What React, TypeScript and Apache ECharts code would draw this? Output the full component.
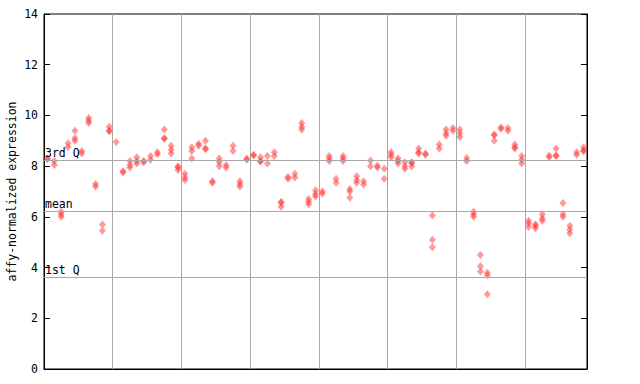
import React, { useEffect, useRef } from "react";
import * as echarts from "echarts";

// Replicate values per sample (79 samples, index = sample position)
const replicateA: (number | null)[] = [
  8.3, 8.2, 6.2, 8.9, 9.4, 8.6, 9.9, 7.3, 5.7, 9.55,
  8.95, 7.8, 8.2, 8.35, 8.2, 8.4, 8.55, 9.45, 8.8, 8.0,
  7.7, 8.75, 8.88, 9.0, 7.4, 8.3, 8.05, 8.8, 7.4, 8.3,
  8.45, 8.35, 8.4, 8.55, 6.6, 7.57, 7.7, 9.7, 6.7, 7.05,
  7.0, 8.4, 7.5, 8.4, 7.1, 7.6, 7.4, 8.22, 8.02, 7.9,
  8.55, 8.3, 8.15, 8.15, 8.7, 8.5, 6.05, 8.85, 9.45, 9.5,
  9.45, 8.32, 6.2, 4.5, 3.8, 9.25, 9.52, 9.5, 8.85, 8.4,
  5.85, 5.7, 6.1, 8.42, 8.7, 6.55, 5.65, 8.55, 8.75,
];
const replicateB: (number | null)[] = [
  8.28, 8.05, 6.1, 8.75, 9.1, 8.5, 9.8, 7.2, 5.45, 9.4,
  null, 7.75, 8.05, 8.2, 8.15, 8.25, 8.47, 9.1, 8.65, 7.95,
  7.55, 8.6, 8.8, 8.7, 7.35, 8.15, 7.95, 8.6, 7.3, 8.25,
  8.42, 8.2, 8.1, 8.4, 6.55, 7.5, 7.55, 9.55, 6.6, 6.9,
  6.92, 8.3, 7.35, 8.3, 7.0, 7.45, 7.28, 8.0, 7.95, 7.5,
  8.45, 8.2, 8.0, 8.12, 8.55, 8.45, 5.1, 8.7, 9.3, 9.4,
  9.3, 8.2, 6.1, 4.05, 3.7, 9.22, 9.47, 9.4, 8.75, 8.25,
  5.75, 5.65, 5.95, 8.35, 8.42, 6.1, 5.5, 8.45, 8.62,
];
const replicateC: (number | null)[] = [
  null, null, 6.0, null, 9.0, null, 9.7, null, null, 9.38,
  null, null, 7.95, 8.1, null, null, null, 9.08, 8.5, 7.85,
  7.45, 8.3, null, 8.68, null, 8.0, null, null, 7.2, null,
  null, 8.18, null, null, 6.4, null, null, 9.45, 6.5, 6.8,
  null, 8.2, null, 8.2, 6.75, 7.35, null, null, null, null,
  8.35, 8.1, 7.9, 8.0, 8.5, null, 4.8, null, 9.2, null,
  9.15, null, 6.0, 3.85, 2.95, 9.0, null, null, 8.7, 8.1,
  5.6, 5.55, 5.85, null, 8.4, 6.0, 5.35, null, 8.6,
];

const quartileNames = ["3rd Q", "mean", "1st Q"];
const quartileValues = [8.24, 6.22, 3.62];

const yTicks = [0, 2, 4, 6, 8, 10, 12, 14];

const MONO = "'DejaVu Sans Mono', monospace";

export default function App() {
  const ref = useRef<HTMLDivElement>(null);
  useEffect(() => {
    document.body.style.margin = "0";
    const chart = echarts.init(ref.current!, null, { renderer: "svg" });
    const nSamples = replicateA.length;
    const points: number[][] = [];
    [replicateA, replicateB, replicateC].forEach((arr) =>
      arr.forEach((v, i) => {
        if (v != null) points.push([i + 0.5, v]);
      })
    );
    const axisLineStyle = { color: "#000", width: 1 };
    chart.setOption({
      animation: false,
      backgroundColor: "#fff",
      grid: {
        left: 44,
        right: 53,
        top: 14,
        bottom: 15,
        outerBoundsMode: "none",
        containLabel: false,
        show: true,
        borderColor: "#000",
        borderWidth: 1,
        backgroundColor: "transparent",
      },
      xAxis: {
        type: "value",
        min: 0,
        max: nSamples,
        interval: 10,
        axisLine: { show: true, lineStyle: axisLineStyle },
        axisTick: { show: false },
        axisLabel: { show: false },
        splitLine: { show: true, lineStyle: { color: "#a8a8a8", width: 1 } },
      },
      yAxis: [
        {
          type: "value",
          min: yTicks[0],
          max: yTicks[yTicks.length - 1],
          interval: 2,
          position: "left",
          name: "affy-normalized expression",
          nameLocation: "middle",
          nameGap: 26,
          nameMoveOverlap: false,
          nameTextStyle: { fontFamily: MONO, fontSize: 11.5, color: "#000" },
          axisLine: { show: true, lineStyle: axisLineStyle },
          axisTick: { show: true, inside: true, length: 6, lineStyle: axisLineStyle },
          axisLabel: { fontFamily: MONO, fontSize: 11.5, color: "#000", margin: 6 },
          splitLine: { show: false },
        },
        {
          type: "value",
          min: yTicks[0],
          max: yTicks[yTicks.length - 1],
          interval: 2,
          position: "right",
          axisLine: { show: true, lineStyle: axisLineStyle },
          axisTick: { show: true, inside: true, length: 6, lineStyle: axisLineStyle },
          axisLabel: { show: false },
          splitLine: { show: false },
        },
      ],
      series: [
        {
          type: "scatter",
          data: points,
          symbol: "diamond",
          symbolSize: [7, 8],
          itemStyle: { color: "rgba(255,50,50,0.62)" },
          markLine: {
            silent: true,
            symbol: "none",
            lineStyle: { color: "#a8a8a8", width: 1, type: "solid" },
            label: {
              show: true,
              position: "insideStartTop",
              formatter: "{b}",
              color: "#000",
              fontFamily: MONO,
              fontSize: 11.5,
              distance: [1, 1],
            },
            data: quartileNames.map((n, i) => ({ name: n, yAxis: quartileValues[i] })),
          },
        },
      ],
    });
    return () => chart.dispose();
  }, []);
  return <div ref={ref} style={{ width: 640, height: 384 }} />;
}
